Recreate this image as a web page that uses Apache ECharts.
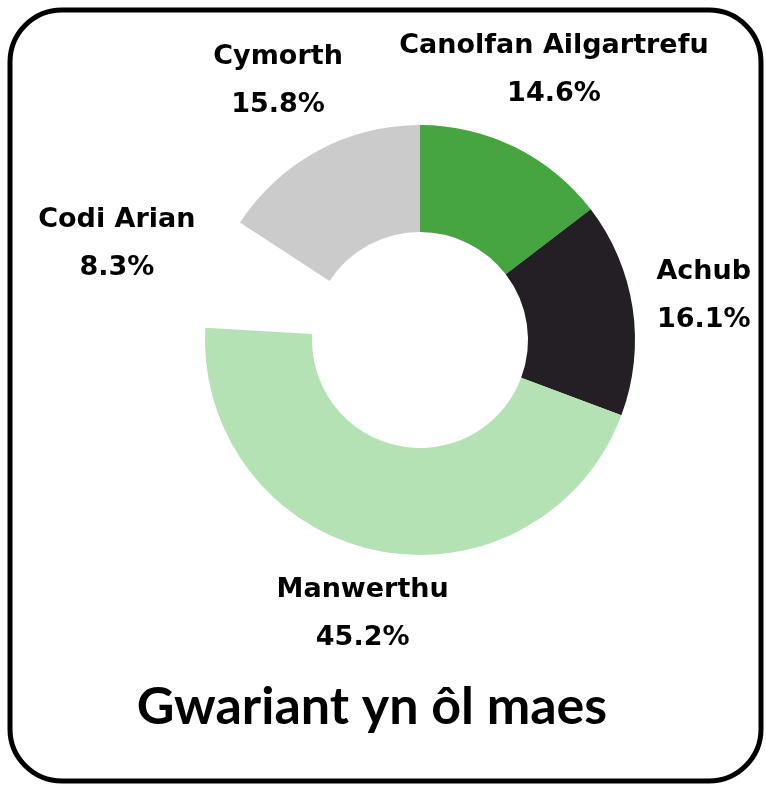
<!DOCTYPE html>
<html>
<head>
<meta charset="utf-8">
<script src="https://cdn.jsdelivr.net/npm/echarts@6/dist/echarts.min.js"></script>
<style>
  html, body { margin: 0; padding: 0; background: #fff; }
  #main { width: 766px; height: 785px; }
</style>
</head>
<body>
<div id="main"></div>
<script>
var categories = ['Canolfan Ailgartrefu', 'Achub', 'Manwerthu', 'Codi Arian', 'Cymorth'];
var values = [14.6, 16.1, 45.2, 8.3, 15.8];
var colors = ['#46a540', '#231f24', '#b5e2b5', 'rgba(0,0,0,0)', '#cbcbcb'];

var myChart = echarts.init(document.getElementById('main'));

// small label nudges so the text sits where the original put it
var nudge = [[2, -3], [-11, 0], [4, -18], [-20, -3], [0, 3]];

var slices = [];
var labels = [];
for (var i = 0; i < categories.length; i++) {
    slices.push({ name: categories[i], value: values[i], itemStyle: { color: colors[i] } });
    labels.push({ name: categories[i], value: values[i], label: { offset: nudge[i] } });
}

option = {
    animation: false,
    title: {
        text: 'Gwariant yn ôl maes',
        left: 367,
        textAlign: 'center',
        top: 676,
        textStyle: {
            fontFamily: 'Lato, sans-serif',
            fontWeight: 'bold',
            fontSize: 52,
            color: '#000'
        }
    },
    graphic: [{
        type: 'rect',
        shape: { x: 10, y: 10, width: 751, height: 771, r: 52 },
        style: { fill: 'none', stroke: '#000', lineWidth: 5 },
        silent: true
    }],
    series: [{
        type: 'pie',
        center: [420, 340],
        radius: [108, 215],
        startAngle: 90,
        silent: true,
        label: { show: false },
        labelLine: { show: false },
        data: slices
    }, {
        // transparent ring that only carries the labels
        type: 'pie',
        center: [420, 340],
        radius: [265, 325],
        startAngle: 90,
        silent: true,
        itemStyle: { color: 'rgba(0,0,0,0)' },
        label: {
            show: true,
            position: 'inside',
            formatter: '{b}\n{c}%',
            fontFamily: '"DejaVu Sans", sans-serif',
            fontWeight: 'bold',
            fontSize: 27,
            lineHeight: 48,
            color: '#000',
            align: 'center'
        },
        labelLine: { show: false },
        data: labels
    }]
};

myChart.setOption(option);
</script>
</body>
</html>
